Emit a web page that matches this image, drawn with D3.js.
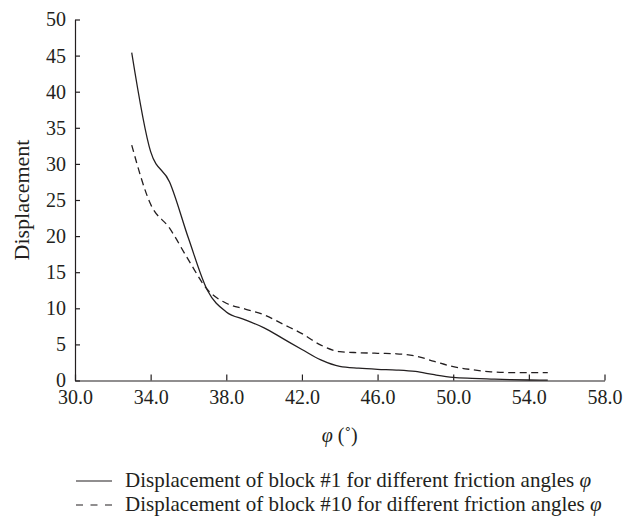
<!DOCTYPE html>
<html lang="en">
<head>
    <meta charset="UTF-8">
    <title>Displacement vs friction angle</title>
    <script src="https://d3js.org/d3.v7.min.js"></script>
    <style>
        body { margin: 0; background: #fff; }
        svg text { font-family: "Liberation Serif", "DejaVu Serif", serif; fill: #231f20; }
    </style>
</head>
<body>
    <svg id="chart" width="637" height="517"></svg>

    <script>
        // friction angle (deg)
        const phi = [33, 34, 35, 36, 37, 38, 39, 40, 41, 42, 43, 44, 45, 46, 47, 48, 49, 50, 51, 52, 53, 54, 55];
        // block #1
        const block1 = [45.4, 31.7, 27.5, 19.7, 12.5, 9.5, 8.4, 7.3, 5.8, 4.3, 2.85, 1.95, 1.7, 1.55, 1.45, 1.25, 0.8, 0.44, 0.3, 0.2, 0.12, 0.07, 0.05];
        // block #10
        const block10 = [32.6, 24.4, 21.1, 16.7, 12.6, 10.7, 9.9, 9.1, 7.8, 6.5, 4.9, 4.0, 3.85, 3.77, 3.7, 3.4, 2.65, 1.91, 1.5, 1.2, 1.1, 1.08, 1.08];

        const xTicks = [30, 34, 38, 42, 46, 50, 54, 58];
        const yTicks = [0, 5, 10, 15, 20, 25, 30, 35, 40, 45, 50];
        const legendLabels = [
            "Displacement of block #1 for different friction angles ",
            "Displacement of block #10 for different friction angles "
        ];

        const ink = "#231f20";
        const svg = d3.select("#chart");

        const x = d3.scaleLinear().domain([30, 58]).range([75, 604.5]);
        const y = d3.scaleLinear().domain([0, 50]).range([380.5, 19.5]);

        // axes
        const gx = svg.append("g")
            .attr("transform", `translate(0,${y(0)})`)
            .call(d3.axisBottom(x).tickValues(xTicks).tickFormat(d3.format(".1f"))
                .tickSize(-6).tickSizeOuter(0).tickPadding(9));
        const gy = svg.append("g")
            .attr("transform", `translate(${x(30)},0)`)
            .call(d3.axisLeft(y).tickValues(yTicks)
                .tickSize(-5).tickSizeOuter(0).tickPadding(9));

        [gx, gy].forEach(g => {
            g.selectAll("path, line").attr("stroke", ink).attr("stroke-width", 1.2);
            g.selectAll("text").attr("font-size", 20)
                .attr("font-family", "'Liberation Serif', serif").attr("fill", ink);
        });

        // titles
        svg.append("text")
            .attr("transform", `translate(29,${(y(0) + y(50)) / 2}) rotate(-90)`)
            .attr("text-anchor", "middle")
            .attr("font-size", 22)
            .text("Displacement");

        const xt = svg.append("text")
            .attr("x", (x(30) + x(58)) / 2)
            .attr("y", 442)
            .attr("text-anchor", "middle")
            .attr("font-size", 20);
        xt.append("tspan").attr("font-style", "italic").text("φ");
        xt.append("tspan").text(" (˚)");

        // curves
        const series = [
            {vals: block1, dash: null},
            {vals: block10, dash: "7,4.5"}
        ];
        const line = d3.line()
            .x(d => x(d[0]))
            .y(d => y(d[1]))
            .curve(d3.curveMonotoneX);

        series.forEach(s => {
            svg.append("path")
                .datum(phi.map((p, i) => [p, s.vals[i]]))
                .attr("fill", "none")
                .attr("stroke", ink)
                .attr("stroke-width", 1.3)
                .attr("stroke-dasharray", s.dash)
                .attr("d", line);
        });

        // legend
        const lg = svg.append("g");
        series.forEach((s, i) => {
            const by = 487 + i * 24;
            lg.append("line")
                .attr("x1", 76).attr("x2", 112)
                .attr("y1", by - 6).attr("y2", by - 6)
                .attr("stroke", ink).attr("stroke-width", 1.2)
                .attr("stroke-dasharray", s.dash ? "7,7.5" : null);
            const t = lg.append("text")
                .attr("x", 125).attr("y", by)
                .attr("font-size", 21);
            t.append("tspan").text(legendLabels[i]);
            t.append("tspan").attr("font-style", "italic").text("φ");
        });
    </script>
</body>
</html>
